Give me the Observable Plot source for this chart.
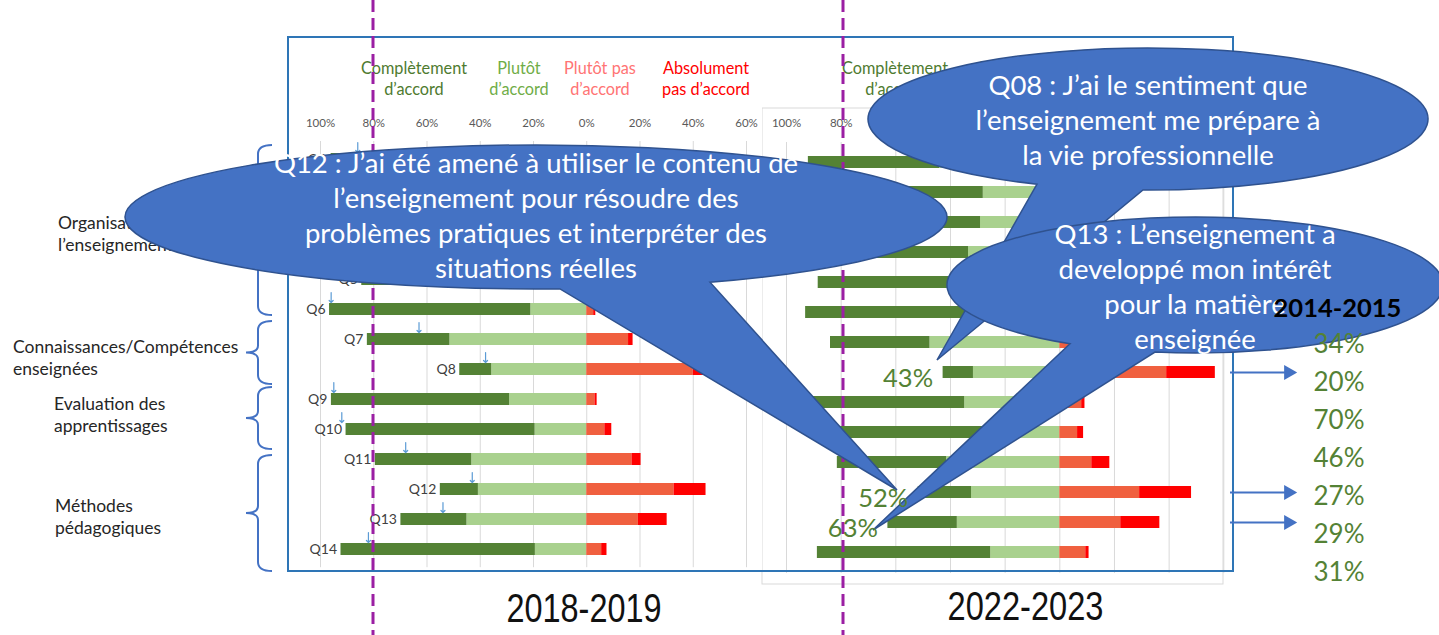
<!DOCTYPE html>
<html><head><meta charset="utf-8">
<script src="https://cdn.jsdelivr.net/npm/d3@7"></script>
<script src="https://cdn.jsdelivr.net/npm/@observablehq/plot@0.6"></script>
<style>
body{margin:0;background:#fff;}
#wrap{position:relative;width:1439px;height:635px;overflow:hidden;font-family:Lato,"Open Sans",sans-serif;}
</style></head><body><div id="wrap"></div>
<script>
// ---------- DATA ----------
const questions = ["Q1","Q2","Q3","Q4","Q5","Q6","Q7","Q8","Q9","Q10","Q11","Q12","Q13","Q14"];
const ticks = [-100,-80,-60,-40,-20,0,20,40,60];
const seriesNames = ["Complètement d’accord","Plutôt d’accord","Plutôt pas d’accord","Absolument pas d’accord"];
// 2018-2019 (percent)
const left_complet     = [58, 45, 40, 42, 30, 75.6, 31, 12, 66.9, 71, 36.2, 14.3, 24.8, 73];
const left_plutot      = [38, 42, 45, 44, 54.5, 21, 51.4, 35.7, 29, 19.4, 43.2, 40.7, 45, 19.3];
const left_plutotPas   = [3, 10, 12, 11, 13, 2.6, 15.7, 40, 3.1, 6.8, 17, 32.8, 19.4, 5.6];
const left_absolument  = [1, 3, 3, 3, 2.5, 0.8, 1.7, 12, 0.8, 2.6, 3.4, 12, 10.8, 2];
const left_marker      = [-86, -70, -70, -72, -75, -96, -63, -38, -95, -92, -68, -43, -54, -82];
// 2022-2023 (percent)
const right_complet    = [48, 60, 56, 50.6, 55, 62, 36.4, 11.1, 55.4, 67, 40, 19.5, 25.4, 63.4];
const right_plutot     = [44, 28, 29, 33.4, 33.4, 31, 47.5, 31.6, 34.8, 24.3, 41.4, 32.3, 37.5, 25.3];
const right_plutotPas  = [6, 9, 11, 12, 9, 5, 12, 39.1, 8, 6.5, 11.7, 29.2, 22.3, 9.5];
const right_absolument = [2, 3, 4, 4, 2.6, 2, 4.1, 17.8, 1.2, 2.2, 6.6, 19, 14.3, 1.2];
const highlighted = ["Q8","Q12","Q13"];
// 2014-2015 column
const rows2014 = ["Q7","Q8","Q9","Q11","Q12","Q13","Q14"];
const values2014 = [34, 20, 70, 46, 27, 29, 31];
const years = ["2018-2019","2022-2023"];

// ---------- STYLE ----------
const colors = ["#548235","#a9d18e","#f0603f","#ff0000"];
const headerColors = ["#4f7b30","#70ad47","#ff7474","#ff0000"];
const W = document.getElementById("wrap");
const NS = "http://www.w3.org/2000/svg";
function place(el, x, y){ el.style.position="absolute"; el.style.left=x+"px"; el.style.top=y+"px"; W.appendChild(el); return el; }
function layer(inner){ const s=document.createElementNS(NS,"svg"); s.setAttribute("width",1439); s.setAttribute("height",635); s.innerHTML=inner; s.style.pointerEvents="none"; return place(s,0,0); }

function segments(c,p,pp,a){
  const out=[];
  questions.forEach((q,i)=>{
    out.push({q, s:1, x1:-p[i], x2:0, fill:colors[1]});
    out.push({q, s:0, x1:-(p[i]+c[i]), x2:-p[i], fill:colors[0]});
    out.push({q, s:2, x1:0, x2:pp[i], fill:colors[2]});
    out.push({q, s:3, x1:pp[i], x2:pp[i]+a[i], fill:colors[3]});
  });
  return out;
}

// background box of the 2022-2023 chart
layer(`<rect x="762" y="108" width="461" height="476" fill="#fff" stroke="#d9d9d9"/>`);

// ---------- 2022-2023 chart ----------
const rightCfg = (marks, bg) => ({
  width:462, height:476, marginLeft:24, marginRight:0.7, marginTop:34, marginBottom:11.1,
  style:{background:bg, fontFamily:"Lato, sans-serif", overflow:"visible"},
  x:{domain:[-100,60], axis:null},
  y:{domain:questions, axis:null, paddingInner:0.6, paddingOuter:0.3},
  color:{type:"identity"},
  marks
});
const rightSegs = segments(right_complet, right_plutot, right_plutotPas, right_absolument);
place(Plot.plot(rightCfg([
  Plot.gridX(ticks,{stroke:"#d9d9d9", strokeOpacity:1}),
  Plot.axisX(ticks,{anchor:"top", tickSize:0, tickPadding:16, tickFormat:d=>Math.abs(d)+"%", fontSize:11.5, color:"#595959", label:null}),
  Plot.barX(rightSegs,{x1:"x1", x2:"x2", y:"q", fill:"fill"})
], "transparent")), 762, 108);

// ---------- 2018-2019 chart ----------
const leftSegs = segments(left_complet, left_plutot, left_plutotPas, left_absolument);
place(Plot.plot({
  width:474, height:535, marginLeft:32, marginRight:16, marginTop:104, marginBottom:4.8,
  style:{background:"#fff", fontFamily:"Lato, sans-serif", overflow:"visible"},
  x:{domain:[-100,60], axis:null},
  y:{domain:questions, axis:null, paddingInner:0.6, paddingOuter:0.3},
  color:{type:"identity"},
  marks:[
    Plot.gridX(ticks,{stroke:"#d9d9d9", strokeOpacity:1}),
    Plot.axisX(ticks,{anchor:"top", tickSize:0, tickPadding:15, tickFormat:d=>Math.abs(d)+"%", fontSize:11.5, color:"#595959", label:null}),
    Plot.barX(leftSegs,{x1:"x1", x2:"x2", y:"q", fill:"fill"}),
    Plot.text(questions,{x:(q,i)=>-(left_complet[i]+left_plutot[i]), y:q=>q, text:q=>q, textAnchor:"end", dx:-4, fontSize:14, fill:"#404040"}),
    Plot.vector(questions,{x:(q,i)=>left_marker[i], y:q=>q, length:10, rotate:180, anchor:"start", dy:-17, stroke:"#5b9bd5", strokeWidth:1.2})
  ]
}), 288, 37);

// ---------- annotations layer ----------
function header(cx){ return seriesNames.map((n,i)=>{
  const parts = i===0?["Complètement","d’accord"]:i===1?["Plutôt","d’accord"]:i===2?["Plutôt pas","d’accord"]:["Absolument","pas d’accord"];
  return `<text x="${cx[i]}" text-anchor="middle" font-size="16.3" fill="${headerColors[i]}"><tspan x="${cx[i]}" y="74">${parts[0]}</tspan><tspan x="${cx[i]}" y="95">${parts[1]}</tspan></text>`;}).join(""); }
function brace(top, bot){ const mid=(top+bot)/2; return `<path d="M272,${top} Q258,${top} 258,${top+9} L258,${mid-7} Q258,${mid} 246,${mid} Q258,${mid} 258,${mid+7} L258,${bot-9} Q258,${bot} 272,${bot}" fill="none" stroke="#4472c4" stroke-width="2"/>`; }
function label(x, ys, lines){ return lines.map((l,i)=>`<text x="${x}" y="${ys[i]}" font-size="17.5" fill="#262626">${l}</text>`).join(""); }
function callout(cx, cy, rx, ry, bx1, bx2, tx, ty, lines, tcx, ys){
  const yOn = x => cy + ry*Math.sqrt(1-((x-cx)/rx)**2);
  const d = `M${bx2},${yOn(bx2)} A${rx},${ry} 0 1 0 ${bx1},${yOn(bx1)} L${tx},${ty} Z`;
  return `<path d="${d}" fill="#4472c4" stroke="#2f528f" stroke-width="1.5"/>` +
    lines.map((l,i)=>`<text x="${tcx}" y="${ys[i]}" text-anchor="middle" font-size="27.5" fill="#fff">${l}</text>`).join("");
}
layer(
  header([414,519,600,706]) + header([895,1001,1081,1186]) +
  `<rect x="288" y="37" width="945" height="534" fill="none" stroke="#2e75b6" stroke-width="2"/>` +
  brace(145,315) + brace(321,384) + brace(387,449) + brace(455,571) +
  label(58,[229,251],["Organisation de","l’enseignement"]) +
  label(13,[353,375],["Connaissances/Compétences","enseignées"]) +
  label(54,[410,432],["Evaluation des","apprentissages"]) +
  label(55,[512,534],["Méthodes","pédagogiques"]) +
  `<line x1="373" y1="0" x2="373" y2="635" stroke="#9b1fa3" stroke-width="3" stroke-dasharray="12,6"/>` +
  `<line x1="843" y1="0" x2="843" y2="635" stroke="#9b1fa3" stroke-width="3" stroke-dasharray="12,6"/>` +
  callout(536,217,411,72,560,710,897,490,["Q12 : J’ai été amené à utiliser le contenu de","l’enseignement pour résoudre des","problèmes pratiques et interpréter des","situations réelles"],536,[173,208,243,278]) +
  callout(1148,119,280,71,1037,1143,937,360,["Q08 : J’ai le sentiment que","l’enseignement me prépare à","la vie professionnelle"],1148,[95,130,165]) +
  callout(1195,285,248,68,1070,1155,873,530,["Q13 : L’enseignement a","developpé mon intérêt","pour la matière","enseignée"],1195,[244,279,314,349])
);

// ---------- labels over the callouts (same scales as 2022-2023 chart) ----------
place(Plot.plot(rightCfg([
  Plot.text(highlighted,{x:q=>{const i=questions.indexOf(q); return -(right_complet[i]+right_plutot[i]);}, y:q=>q,
    text:q=>{const i=questions.indexOf(q); return Math.round(right_complet[i]+right_plutot[i])+"%";},
    textAnchor:"end", dx:-10, dy:6, fontSize:25.5, fill:"#548235"})
], "transparent")), 762, 108);

// arrows to the 2014-2015 column
place(Plot.plot({
  width:80, height:476, marginLeft:7, marginRight:15, marginTop:34, marginBottom:11.1,
  style:{background:"transparent", overflow:"visible"},
  y:{domain:questions, axis:null, paddingInner:0.6, paddingOuter:0.3},
  marks:[
    Plot.ruleY(highlighted,{stroke:"#4472c4", strokeWidth:2}),
    Plot.dot(highlighted,{y:q=>q, frameAnchor:"right", symbol:"triangle", rotate:90, r:5.6, fill:"#4472c4", stroke:null})
  ]
}), 1223, 108);

// 2014-2015 column values
place(Plot.plot({
  width:120, height:290, marginLeft:13, marginRight:0, marginTop:43, marginBottom:17.2,
  style:{background:"transparent", fontFamily:"Lato, sans-serif", overflow:"visible"},
  y:{type:"point", domain:rows2014, padding:0, axis:null},
  marks:[
    Plot.text(rows2014,{y:d=>d, text:(d,i)=>values2014[i]+"%", frameAnchor:"left", textAnchor:"start", fontSize:26, fill:"#548235"})
  ]
}), 1300, 300);

// top texts
layer(
  `<text x="1337.5" y="317" text-anchor="middle" font-size="25.5" font-weight="bold" fill="#000">2014-2015</text>` +
  `<text x="584" y="622" text-anchor="middle" font-family="'Liberation Sans Narrow','Arial Narrow','Liberation Sans',Arial,sans-serif" font-size="40" textLength="155" lengthAdjust="spacingAndGlyphs" fill="#111">${years[0]}</text>` +
  `<text x="1025.5" y="620" text-anchor="middle" font-family="'Liberation Sans Narrow','Arial Narrow','Liberation Sans',Arial,sans-serif" font-size="40" textLength="156" lengthAdjust="spacingAndGlyphs" fill="#111">${years[1]}</text>`
);
</script></body></html>
